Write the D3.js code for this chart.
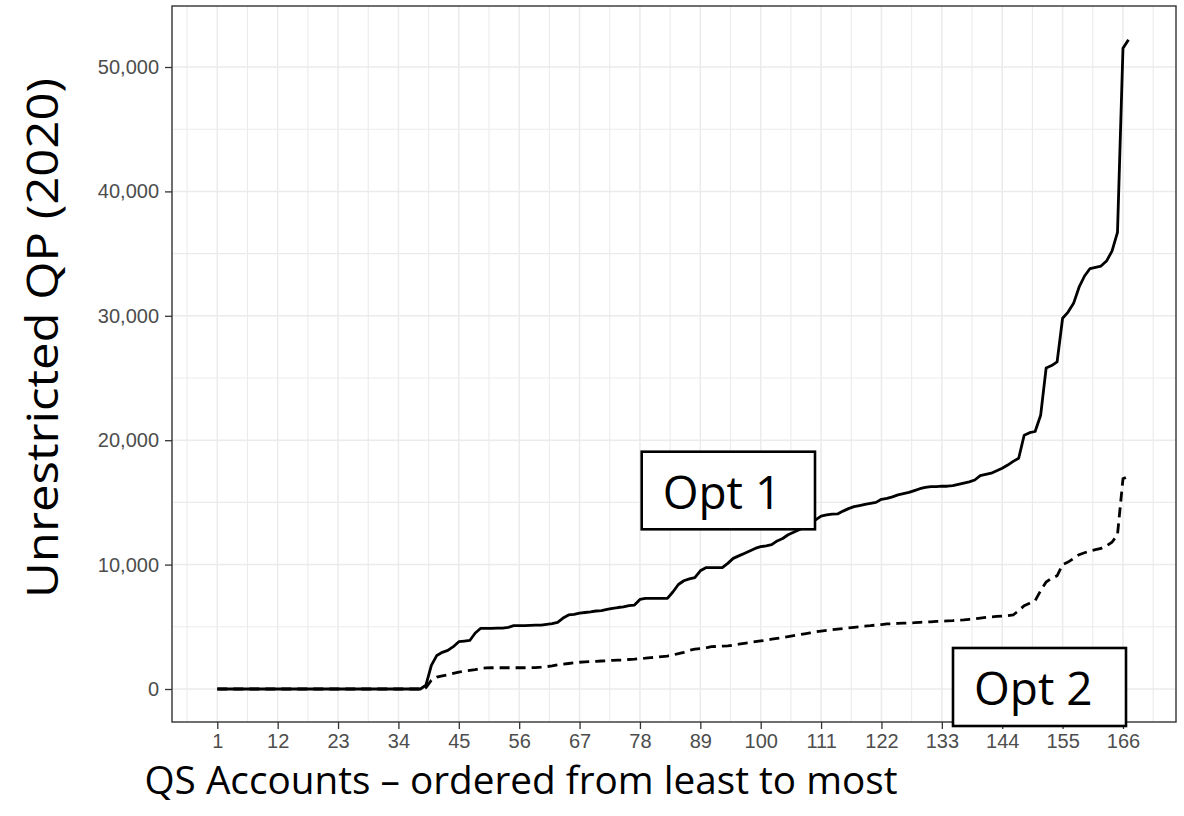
<!DOCTYPE html>
<html>
<head>
<meta charset="utf-8">
<script src="https://cdn.jsdelivr.net/npm/d3@7"></script>
<style>
  body { margin: 0; background: #fff; }
</style>
</head>
<body>
<div id="plot"></div>
<script>

// account rank (x) and the two option series
var accounts = d3.range(1, 168);

var opt1Values = [
  0,0,0,0,0,0,0,0,0,0, 0,0,0,0,0,0,0,0,0,0,
  0,0,0,0,0,0,0,0,0,0, 0,0,0,0,0,0,0,0,300,1900,
  2700,2950,3100,3400,3800,3850,3900,4500,4880,4880,
  4880,4900,4900,4950,5090,5100,5100,5120,5130,5140,
  5200,5250,5350,5700,5950,6000,6100,6150,6200,6270,
  6300,6400,6490,6550,6600,6700,6750,7200,7290,7290,
  7290,7290,7290,7800,8400,8700,8850,8950,9500,9750,
  9750,9750,9750,10100,10500,10700,10900,11100,11300,11440,
  11500,11600,11900,12100,12400,12600,12800,13000,13300,13600,
  13900,14000,14050,14070,14300,14500,14660,14750,14850,14930,
  15000,15250,15330,15450,15600,15700,15800,15950,16100,16200,
  16270,16270,16300,16300,16350,16450,16550,16650,16800,17150,
  17250,17350,17550,17750,18000,18300,18550,20400,20600,20700,
  22000,25800,26000,26300,29800,30300,31000,32300,33200,33800,
  33900,34000,34400,35200,36700,51500,52200
];

var opt2Values = [
  0,0,0,0,0,0,0,0,0,0, 0,0,0,0,0,0,0,0,0,0,
  0,0,0,0,0,0,0,0,0,0, 0,0,0,0,0,0,0,0,100,700,
  950,1050,1150,1250,1350,1450,1500,1550,1650,1700,
  1710,1710,1710,1710,1710,1710,1710,1720,1720,1750,
  1800,1850,1950,2000,2050,2100,2150,2180,2200,2220,
  2250,2270,2300,2320,2330,2370,2400,2450,2480,2520,
  2550,2600,2650,2730,2850,2950,3100,3200,3250,3300,
  3400,3420,3440,3460,3530,3600,3670,3730,3800,3860,
  3930,4000,4070,4140,4210,4290,4360,4440,4510,4590,
  4660,4710,4760,4810,4860,4910,4960,5000,5050,5090,
  5140,5180,5230,5250,5270,5290,5310,5330,5360,5380,
  5400,5430,5450,5480,5500,5530,5550,5600,5650,5700,
  5750,5800,5830,5860,5900,5950,6300,6700,6900,7100,
  7900,8600,8900,9100,10000,10200,10500,10800,10950,11100,
  11200,11300,11500,11800,12400,16900,17100
];

var xTicks = [1, 12, 23, 34, 45, 56, 67, 78, 89, 100, 111, 122, 133, 144, 155, 166];
var yTicks = [0, 10000, 20000, 30000, 40000, 50000];

var xTitle = "QS Accounts \u2013 ordered from least to most";
var yTitle = "Unrestricted QP (2020)";
var optLabels = ["Opt 1", "Opt 2"];

var dimension = {
    width: 1184,
    height: 816,
    margin: {
        top: 6,
        left: 172,
        bottom: 94,
        right: 8
    }
}
dimension.boundedWidth = dimension.width - dimension.margin.left - dimension.margin.right;
dimension.boundedHeight = dimension.height - dimension.margin.top - dimension.margin.bottom;

const svg = d3.select("#plot").append("svg")
    .attr("width", dimension.width)
    .attr("height", dimension.height)
    .style("font-family", "'Liberation Sans', Arial, sans-serif");

const bounded = svg.append("g")
    .attr("transform", `translate(${dimension.margin.left}, ${dimension.margin.top})`);

// scalers (ggplot style 5% padding baked into the domains)
const xScaler = d3.scaleLinear()
    .domain([-7.25, 175.66])
    .range([0, dimension.boundedWidth]);

const yScaler = d3.scaleLinear()
    .domain([-2653, 54904])
    .range([dimension.boundedHeight, 0]);

// minor grid
const xMinor = xTicks.map(d => d - 5.5).concat([xTicks[xTicks.length - 1] + 5.5]);
const yMinor = d3.range(5000, 50000, 10000);

bounded.append("g").selectAll("line")
    .data(xMinor)
    .join("line")
    .attr("x1", d => xScaler(d)).attr("x2", d => xScaler(d))
    .attr("y1", 0).attr("y2", dimension.boundedHeight)
    .attr("stroke", "#ebebeb").attr("stroke-width", 1.1);

bounded.append("g").selectAll("line")
    .data(yMinor)
    .join("line")
    .attr("x1", 0).attr("x2", dimension.boundedWidth)
    .attr("y1", d => yScaler(d)).attr("y2", d => yScaler(d))
    .attr("stroke", "#ebebeb").attr("stroke-width", 1.1);

// major grid
bounded.append("g").selectAll("line")
    .data(xTicks)
    .join("line")
    .attr("x1", d => xScaler(d)).attr("x2", d => xScaler(d))
    .attr("y1", 0).attr("y2", dimension.boundedHeight)
    .attr("stroke", "#ebebeb").attr("stroke-width", 1.5);

bounded.append("g").selectAll("line")
    .data(yTicks)
    .join("line")
    .attr("x1", 0).attr("x2", dimension.boundedWidth)
    .attr("y1", d => yScaler(d)).attr("y2", d => yScaler(d))
    .attr("stroke", "#ebebeb").attr("stroke-width", 1.5);

// lines
const lineGenerator = (values) => d3.line()
    .x((d, i) => xScaler(accounts[i]))
    .y(d => yScaler(d))(values);

bounded.append("path")
    .attr("d", lineGenerator(opt2Values))
    .attr("fill", "none")
    .attr("stroke", "#000")
    .attr("stroke-width", 2.8)
    .attr("stroke-dasharray", "10,6");

bounded.append("path")
    .attr("d", lineGenerator(opt1Values))
    .attr("fill", "none")
    .attr("stroke", "#000")
    .attr("stroke-width", 2.8)
    .attr("stroke-linejoin", "round");

// axes
const xAxisGenerator = d3.axisBottom(xScaler)
    .tickValues(xTicks)
    .tickSize(7)
    .tickPadding(5)
    .tickFormat(d3.format("d"));
const yAxisGenerator = d3.axisLeft(yScaler)
    .tickValues(yTicks)
    .tickSize(7)
    .tickPadding(6)
    .tickFormat(d3.format(","));

const xAxis = bounded.append("g")
    .attr("transform", `translate(0, ${dimension.boundedHeight})`)
    .call(xAxisGenerator);
const yAxis = bounded.append("g").call(yAxisGenerator);

[xAxis, yAxis].forEach(ax => {
    ax.select(".domain").remove();
    ax.selectAll(".tick line").attr("stroke", "#333").attr("stroke-width", 1.3);
    ax.selectAll(".tick text")
        .attr("fill", "#4d4d4d")
        .style("font-size", "20px")
        .style("font-family", "'Liberation Sans', Arial, sans-serif");
});

// panel border
bounded.append("rect")
    .attr("x", 0).attr("y", 0)
    .attr("width", dimension.boundedWidth)
    .attr("height", dimension.boundedHeight)
    .attr("fill", "none")
    .attr("stroke", "#333")
    .attr("stroke-width", 1.4);

// titles
svg.append("text")
    .attr("transform", "translate(58, 338) rotate(-90)")
    .attr("text-anchor", "middle")
    .attr("font-family", "'Open Sans', sans-serif")
    .attr("font-size", 44)
    .attr("textLength", 520)
    .attr("lengthAdjust", "spacingAndGlyphs")
    .attr("fill", "#000")
    .text(yTitle);

svg.append("text")
    .attr("x", 521)
    .attr("y", 794)
    .attr("text-anchor", "middle")
    .attr("font-family", "'Open Sans', sans-serif")
    .attr("font-size", 38)
    .attr("textLength", 753)
    .attr("lengthAdjust", "spacingAndGlyphs")
    .attr("fill", "#000")
    .text(xTitle);

// option labels in boxes
const boxes = [
    { label: optLabels[0], x: 641.7, y: 451.7, w: 173.3, h: 77.6 },
    { label: optLabels[1], x: 953, y: 648, w: 173, h: 78 }
];
const boxGroup = svg.append("g");
boxes.forEach(b => {
    boxGroup.append("rect")
        .attr("x", b.x).attr("y", b.y)
        .attr("width", b.w).attr("height", b.h)
        .attr("fill", "#fff")
        .attr("stroke", "#000")
        .attr("stroke-width", 2.6);
    boxGroup.append("text")
        .attr("x", b.x + 21)
        .attr("y", b.y + 57)
        .attr("font-family", "'Open Sans', sans-serif")
        .attr("font-size", 46)
        .attr("fill", "#000")
        .text(b.label);
});

</script>
</body>
</html>
